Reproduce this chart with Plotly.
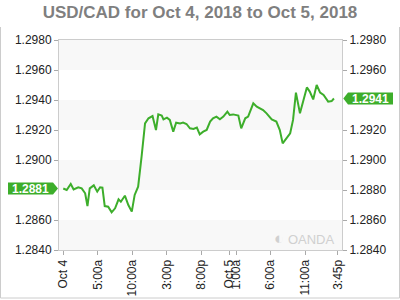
import plotly.graph_objects as go

# ---- data ----
times = [
    "2018-10-04 00:00", "2018-10-04 00:30", "2018-10-04 01:05", "2018-10-04 01:30",
    "2018-10-04 02:10", "2018-10-04 02:40", "2018-10-04 03:10", "2018-10-04 03:30",
    "2018-10-04 03:50", "2018-10-04 04:25", "2018-10-04 04:55", "2018-10-04 05:20",
    "2018-10-04 05:40", "2018-10-04 06:00", "2018-10-04 06:30", "2018-10-04 07:00",
    "2018-10-04 07:30", "2018-10-04 08:00", "2018-10-04 08:20", "2018-10-04 08:55",
    "2018-10-04 09:25", "2018-10-04 09:55", "2018-10-04 10:20", "2018-10-04 10:50",
    "2018-10-04 11:20", "2018-10-04 11:50", "2018-10-04 12:20", "2018-10-04 12:55",
    "2018-10-04 13:25", "2018-10-04 13:45", "2018-10-04 14:15", "2018-10-04 14:30",
    "2018-10-04 15:00", "2018-10-04 15:25", "2018-10-04 15:55", "2018-10-04 16:20",
    "2018-10-04 16:55", "2018-10-04 17:20", "2018-10-04 17:50", "2018-10-04 18:20",
    "2018-10-04 18:50", "2018-10-04 19:20", "2018-10-04 19:45", "2018-10-04 20:15",
    "2018-10-04 20:45", "2018-10-04 21:15", "2018-10-04 21:40", "2018-10-04 22:10",
    "2018-10-04 22:40", "2018-10-04 23:10", "2018-10-04 23:45", "2018-10-05 00:05",
    "2018-10-05 00:35", "2018-10-05 01:20", "2018-10-05 01:45", "2018-10-05 02:20",
    "2018-10-05 02:45", "2018-10-05 03:30", "2018-10-05 04:00", "2018-10-05 04:55",
    "2018-10-05 05:25", "2018-10-05 06:10", "2018-10-05 06:50", "2018-10-05 07:20",
    "2018-10-05 07:45", "2018-10-05 08:20", "2018-10-05 08:50", "2018-10-05 09:15",
    "2018-10-05 09:40", "2018-10-05 10:15", "2018-10-05 10:45", "2018-10-05 11:15",
    "2018-10-05 11:40", "2018-10-05 12:10", "2018-10-05 12:40", "2018-10-05 13:10",
    "2018-10-05 13:40", "2018-10-05 14:20", "2018-10-05 14:50", "2018-10-05 15:10",
]
prices = [
    1.28810, 1.28800, 1.28840, 1.28804, 1.28818, 1.28811, 1.28778, 1.28693,
    1.28811, 1.28831, 1.28789, 1.28818, 1.28816, 1.28693, 1.28689, 1.28651,
    1.28678, 1.28738, 1.28722, 1.28762, 1.28700, 1.28656, 1.28767, 1.28822,
    1.29022, 1.29244, 1.29278, 1.29293, 1.29200, 1.29304, 1.29296, 1.29271,
    1.29282, 1.29267, 1.29189, 1.29249, 1.29244, 1.29249, 1.29240, 1.29211,
    1.29207, 1.29216, 1.29171, 1.29189, 1.29200, 1.29256, 1.29278, 1.29289,
    1.29271, 1.29289, 1.29322, 1.29300, 1.29304, 1.29296, 1.29211, 1.29278,
    1.29289, 1.29378, 1.29356, 1.29333, 1.29311, 1.29271, 1.29256, 1.29200,
    1.29111, 1.29144, 1.29178, 1.29267, 1.29449, 1.29311, 1.29400, 1.29484,
    1.29456, 1.29404, 1.29500, 1.29449, 1.29433, 1.29389, 1.29393, 1.29410,
]
tick_vals = [
    "2018-10-04 00:00", "2018-10-04 05:00", "2018-10-04 10:00", "2018-10-04 15:00",
    "2018-10-04 20:00", "2018-10-05 00:00", "2018-10-05 01:00", "2018-10-05 06:00",
    "2018-10-05 11:00", "2018-10-05 15:45",
]
tick_text = ["Oct 4", "5:00a", "10:00a", "3:00p", "8:00p", "Oct 5", "1:00a",
             "6:00a", "11:00a", "3:45p"]
y_ticks = [1.2840, 1.2860, 1.2880, 1.2900, 1.2920, 1.2940, 1.2960, 1.2980]
bands = [(1.2840, 1.2860), (1.2880, 1.2900), (1.2920, 1.2940), (1.2960, 1.2980)]
title = "USD/CAD for Oct 4, 2018 to Oct 5, 2018"

GREEN = "#3dae2b"
FONT = "Liberation Sans, Arial, sans-serif"
x_range = ["2018-10-03 23:23", "2018-10-05 16:20"]
y_range = [1.2840, 1.2980]

first, last = prices[0], prices[-1]
# tick labels covered by the price tags are not shown
left_ticks = [v for v in y_ticks if abs(v - first) > 0.0005]
right_ticks = [v for v in y_ticks if abs(v - last) > 0.0005]

fig = go.Figure()
fig.add_trace(go.Scatter(x=times, y=prices, mode="lines",
                         line=dict(color=GREEN, width=2), hoverinfo="skip",
                         showlegend=False))
fig.add_trace(go.Scatter(x=times, y=prices, mode="lines", yaxis="y2",
                         line=dict(color="rgba(0,0,0,0)", width=0),
                         hoverinfo="skip", showlegend=False))

shapes = []
for lo, hi in bands:
    shapes.append(dict(type="rect", xref="paper", yref="y", x0=0, x1=1,
                       y0=lo, y1=hi, fillcolor="#f8f8f8", line=dict(width=0),
                       layer="below"))

# price tags
hh = 0.0004
shapes.append(dict(type="path", xref="paper", yref="y",
                   path=f"M -0.1802 {first-hh} L -0.0212 {first-hh} L -0.0035 {first} "
                        f"L -0.0212 {first+hh} L -0.1802 {first+hh} Z",
                   fillcolor=GREEN, line=dict(width=0)))
shapes.append(dict(type="path", xref="paper", yref="y",
                   path=f"M 1.1802 {last-hh} L 1.0212 {last-hh} L 1.0046 {last} "
                        f"L 1.0212 {last+hh} L 1.1802 {last+hh} Z",
                   fillcolor=GREEN, line=dict(width=0)))
# outer frame (left, bottom, right)
shapes.append(dict(type="path", xref="paper", yref="paper",
                   path="M -0.2067 1.0619 L -0.2067 -0.2286 L 1.2032 -0.2286 L 1.2032 1.0619",
                   line=dict(color="#cccccc", width=1)))

annotations = [
    dict(xref="paper", yref="y", x=-0.1007, y=first, text="<b>%.4f</b>" % first,
         xanchor="center", yanchor="middle",
         showarrow=False, font=dict(family=FONT, size=12, color="white")),
    dict(xref="paper", yref="y", x=1.1007, y=last, text="<b>%.4f</b>" % last,
         xanchor="center", yanchor="middle",
         showarrow=False, font=dict(family=FONT, size=12, color="white")),
    dict(xref="paper", yref="paper", x=0.979, y=0.057, xanchor="right",
         yanchor="middle",
         text='<span style="font-size:17px">◐</span> OANDA', showarrow=False,
         font=dict(family=FONT, size=13, color="#d0d0d0")),
]

axis_common = dict(range=y_range, showgrid=False, zeroline=False,
                   ticks="outside", ticklen=4, tickcolor="#aaaaaa",
                   showline=True, linecolor="#cccccc",
                   tickfont=dict(family=FONT, size=12, color="#222222"))

fig.update_layout(
    width=400, height=300,
    margin=dict(l=59, r=58, t=40, b=50),
    paper_bgcolor="white", plot_bgcolor="white",
    title=dict(text="<b>" + title + "</b>", x=0.5, xanchor="center",
               y=0.96, yanchor="middle",
               font=dict(family=FONT, size=17, color="#7f7f7f")),
    xaxis=dict(range=x_range, tickvals=tick_vals, ticktext=tick_text,
               tickangle=-90, showgrid=False, zeroline=False, ticks="outside",
               ticklen=4, tickcolor="#aaaaaa", showline=True, mirror=True,
               linecolor="#cccccc", automargin=False,
               tickfont=dict(family=FONT, size=12, color="#222222")),
    yaxis=dict(side="left", automargin=False, tickvals=left_ticks,
               ticktext=["%.4f" % v for v in left_ticks], **axis_common),
    yaxis2=dict(side="right", overlaying="y", automargin=False,
                tickvals=right_ticks,
                ticktext=["%.4f" % v for v in right_ticks], **axis_common),
    shapes=shapes, annotations=annotations,
)

fig.write_html("out.html")
